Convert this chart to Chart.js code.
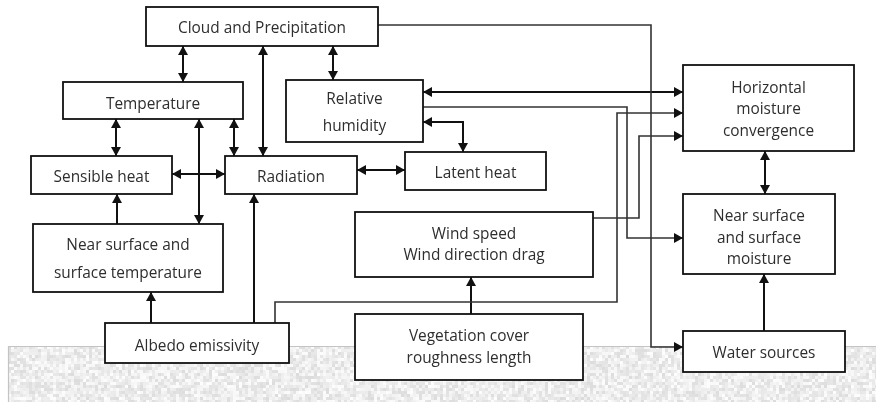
<!DOCTYPE html>
<html><head><meta charset="utf-8">
<script src="https://cdn.jsdelivr.net/npm/chart.js@4"></script>
<style>html,body{margin:0;padding:0;background:#fff}#wrap{width:876px;height:402px}</style>
</head><body><div id="wrap"><canvas id="c" width="876" height="402"></canvas></div>
<script>
// ---- Boxes (nodes) ----
const boxLabels = [
  ["Cloud and Precipitation"],
  ["Temperature"],
  ["Relative", "humidity"],
  ["Sensible heat"],
  ["Radiation"],
  ["Latent heat"],
  ["Horizontal", "moisture", "convergence"],
  ["Near surface", "and surface", "moisture"],
  ["Water sources"],
  ["Wind speed", "Wind direction drag"],
  ["Vegetation cover", "roughness length"],
  ["Near surface and", "surface temperature"],
  ["Albedo emissivity"]
];
const boxLeft   = [146, 63, 286, 31, 225, 405, 683, 683, 683, 355, 355, 33, 105];
const boxTop    = [7, 82, 80, 156, 156, 152, 65, 194, 331, 212, 314, 224, 323];
const boxRight  = [378, 243, 423, 172, 357, 546, 854, 835, 845, 593, 583, 223, 289];
const boxBottom = [46, 119, 142, 194, 194, 190, 151, 274, 372, 277, 380, 292, 363];
const boxTextY  = [[27.5], [103], [98, 125], [176], [176], [172], [87, 108, 130], [215, 237, 258], [352], [233, 254], [335, 357], [244, 272], [345]];

// ---- Connectors (paths) ----
const connectorPaths = [
  [[183,46],[183,82]],
  [[263,46],[263,156]],
  [[333,46],[333,80]],
  [[378,25],[651,25],[651,347],[683,347]],
  [[116,119],[116,156]],
  [[234,119],[234,156]],
  [[199,119],[199,224]],
  [[172,174],[225,174]],
  [[357,170],[405,170]],
  [[423,92],[683,92]],
  [[423,107],[627,107],[627,238],[683,238]],
  [[423,122],[463,122],[463,152]],
  [[275,323],[275,302],[617,302],[617,113],[683,113]],
  [[593,218],[639,218],[639,136],[683,136]],
  [[765,151],[765,194]],
  [[764,331],[764,274]],
  [[471,314],[471,277]],
  [[151,323],[151,292]],
  [[254,323],[254,194]],
  [[117,224],[117,194]]
];
const arrowAtStart = [1,1,1,0,1,1,1,1,1,1,0,1,0,0,1,0,0,0,0,0];
const arrowAtEnd   = [1,1,1,1,1,1,1,1,1,1,1,1,1,1,1,1,1,1,1,1];
const connectorLong = [0,0,0,1,0,0,0,0,0,0,1,0,1,1,0,0,0,0,0,0];

const groundTop = 346, groundLeft = 8;

const datasets = connectorPaths.map((p, i) => ({
  data: p.map(q => ({x: q[0], y: q[1]})),
  showLine: true,
  pointRadius: 0,
  borderColor: connectorLong[i] ? '#333' : '#111',
  borderWidth: connectorLong[i] ? 1.6 : 2,
  tension: 0,
  clip: false,
  fill: false
}));

function hash(i, j) {
  const s = Math.sin(i * 12.9898 + j * 78.233) * 43758.5453;
  return s - Math.floor(s);
}

const diagramPlugin = {
  id: 'diagram',
  beforeDatasetsDraw(chart) {
    const ctx = chart.ctx, xs = chart.scales.x, ys = chart.scales.y;
    const gx = xs.getPixelForValue(groundLeft), gy = ys.getPixelForValue(groundTop);
    const gx2 = xs.getPixelForValue(876), gy2 = ys.getPixelForValue(402);
    ctx.save();
    ctx.fillStyle = '#e6e6e6';
    ctx.fillRect(gx, gy, gx2 - gx, gy2 - gy);
    for (let i = 0; i < (gx2 - gx) / 3; i++) {
      for (let j = 0; j < (gy2 - gy) / 3; j++) {
        const h = hash(i, j);
        const v = Math.round(220 + h * 33);
        ctx.fillStyle = 'rgb(' + v + ',' + v + ',' + v + ')';
        ctx.fillRect(gx + i * 3, gy + j * 3, 3, 3);
      }
    }
    ctx.strokeStyle = '#c4c4c4';
    ctx.lineWidth = 1.2;
    ctx.beginPath();
    ctx.moveTo(gx2, gy + 0.5); ctx.lineTo(gx + 0.5, gy + 0.5); ctx.lineTo(gx + 0.5, gy2);
    ctx.stroke();
    ctx.fillStyle = '#ffffff';
    for (let i = 0; i < boxLabels.length; i++) {
      const x1 = xs.getPixelForValue(boxLeft[i]), x2 = xs.getPixelForValue(boxRight[i]);
      const y1 = ys.getPixelForValue(boxTop[i]), y2 = ys.getPixelForValue(boxBottom[i]);
      ctx.fillRect(x1, y1, x2 - x1, y2 - y1);
    }
    ctx.restore();
  },
  afterDatasetsDraw(chart) {
    const ctx = chart.ctx, xs = chart.scales.x, ys = chart.scales.y;
    ctx.save();
    ctx.strokeStyle = '#111';
    ctx.lineWidth = 1.8;
    ctx.font = '15.4px "Open Sans", "Noto Sans", sans-serif';
    ctx.fillStyle = '#2e2e2e';
    ctx.textAlign = 'center';
    ctx.textBaseline = 'middle';
    for (let i = 0; i < boxLabels.length; i++) {
      const x1 = xs.getPixelForValue(boxLeft[i]), x2 = xs.getPixelForValue(boxRight[i]);
      const y1 = ys.getPixelForValue(boxTop[i]), y2 = ys.getPixelForValue(boxBottom[i]);
      ctx.strokeRect(x1, y1, x2 - x1, y2 - y1);
      const cx = (x1 + x2) / 2;
      boxLabels[i].forEach((t, k) => ctx.fillText(t, cx, ys.getPixelForValue(boxTextY[i][k]) + 1.5));
    }
    ctx.fillStyle = '#111';
    const head = (tip, from) => {
      const tx = xs.getPixelForValue(tip[0]), ty = ys.getPixelForValue(tip[1]);
      const fx = xs.getPixelForValue(from[0]), fy = ys.getPixelForValue(from[1]);
      const dx = tx - fx, dy = ty - fy, L = Math.hypot(dx, dy) || 1;
      const ux = dx / L, uy = dy / L, len = 9, hw = 5;
      const bx = tx - ux * len, by = ty - uy * len;
      ctx.beginPath();
      ctx.moveTo(tx, ty);
      ctx.lineTo(bx - uy * hw, by + ux * hw);
      ctx.lineTo(bx + uy * hw, by - ux * hw);
      ctx.closePath();
      ctx.fill();
    };
    connectorPaths.forEach((p, i) => {
      if (arrowAtEnd[i]) head(p[p.length - 1], p[p.length - 2]);
      if (arrowAtStart[i]) head(p[0], p[1]);
    });
    ctx.restore();
  }
};

new Chart(document.getElementById('c'), {
  type: 'scatter',
  data: { datasets },
  options: {
    responsive: false,
    animation: false,
    layout: { padding: 0 },
    plugins: { legend: { display: false }, tooltip: { enabled: false } },
    events: [],
    scales: {
      x: { type: 'linear', min: 0, max: 876, display: false },
      y: { type: 'linear', min: 0, max: 402, reverse: true, display: false }
    }
  },
  plugins: [diagramPlugin]
});
</script>
</body></html>
